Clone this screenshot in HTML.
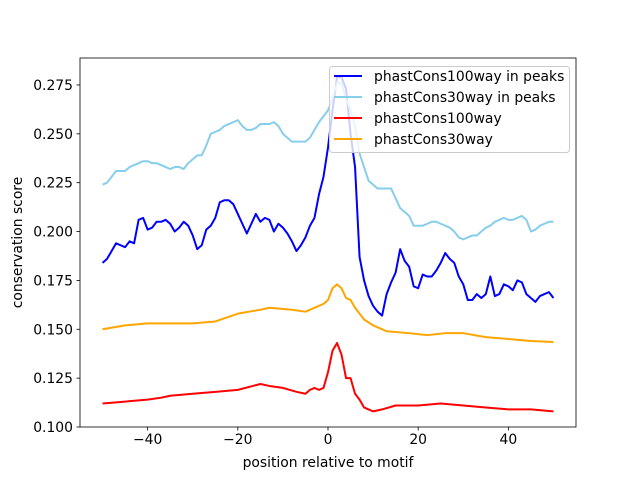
<!DOCTYPE html>
<html><head><meta charset="utf-8"><style>
body{margin:0;background:#fff;}
svg{display:block;font-family:"DejaVu Sans","Liberation Sans",sans-serif;}
</style></head><body>
<svg id="chart" width="640" height="480"></svg>
<script>
const xsPeaks100 = [];for(let i=-50;i<=50;i++)xsPeaks100.push(i);
const peaks100 = [0.184,0.186,0.190,0.194,0.193,0.192,0.195,0.194,0.206,0.207,0.201,0.202,0.205,0.205,0.206,0.204,0.200,0.202,0.205,0.203,0.198,0.191,0.193,0.201,0.203,0.207,0.215,0.216,0.216,0.214,0.209,0.204,0.199,0.204,0.209,0.205,0.207,0.206,0.200,0.204,0.202,0.199,0.195,0.190,0.193,0.197,0.203,0.207,0.219,0.228,0.243,0.262,0.279,0.279,0.273,0.250,0.233,0.187,0.175,0.167,0.162,0.159,0.157,0.168,0.174,0.179,0.191,0.185,0.182,0.172,0.171,0.178,0.177,0.177,0.180,0.184,0.189,0.186,0.184,0.177,0.173,0.165,0.165,0.168,0.166,0.168,0.177,0.167,0.168,0.173,0.172,0.170,0.175,0.174,0.168,0.166,0.164,0.167,0.168,0.169,0.166];
const peaks30 = [0.224,0.225,0.228,0.231,0.231,0.231,0.233,0.234,0.235,0.236,0.236,0.235,0.235,0.234,0.233,0.232,0.233,0.233,0.232,0.235,0.237,0.239,0.239,0.244,0.250,0.251,0.252,0.254,0.255,0.256,0.257,0.254,0.252,0.252,0.253,0.255,0.255,0.255,0.256,0.254,0.250,0.248,0.246,0.246,0.246,0.246,0.248,0.252,0.256,0.259,0.262,0.268,0.276,0.276,0.268,0.262,0.254,0.240,0.233,0.226,0.224,0.222,0.222,0.222,0.222,0.217,0.212,0.210,0.208,0.203,0.203,0.203,0.204,0.205,0.205,0.204,0.203,0.202,0.200,0.197,0.196,0.197,0.198,0.198,0.200,0.202,0.203,0.205,0.206,0.207,0.206,0.206,0.207,0.208,0.206,0.200,0.201,0.203,0.204,0.205,0.205];
const xsAll100 = [-50,-45,-40,-37,-35,-30,-25,-20,-15,-13,-10,-7,-5,-4,-3,-2,-1,0,1,2,3,4,5,6,7,8,9,10,12,15,20,25,30,35,40,45,50];
const all100 = [0.112,0.113,0.114,0.115,0.116,0.117,0.118,0.119,0.122,0.121,0.120,0.118,0.117,0.119,0.120,0.119,0.120,0.128,0.139,0.143,0.137,0.125,0.125,0.117,0.114,0.110,0.109,0.108,0.109,0.111,0.111,0.112,0.111,0.110,0.109,0.109,0.108];
const xsAll30 = [-50,-45,-40,-30,-25,-20,-15,-13,-8,-5,-3,-1,0,1,2,3,4,5,6,7,8,10,13,18,22,26,30,35,40,45,50];
const all30 = [0.150,0.152,0.153,0.153,0.154,0.158,0.160,0.161,0.160,0.159,0.161,0.163,0.165,0.171,0.173,0.171,0.166,0.165,0.161,0.158,0.155,0.152,0.149,0.148,0.147,0.148,0.148,0.146,0.145,0.144,0.1435];
const xTicks = [-40,-20,0,20,40];
const yTicks = [0.100,0.125,0.150,0.175,0.200,0.225,0.250,0.275];
const legendLabels = ["phastCons100way in peaks","phastCons30way in peaks","phastCons100way","phastCons30way"];

const L=80,R=576,T=58,B=427, X0=-55,X1=55,Y0=0.1,Y1=0.2888;
const sx=v=>L+(v-X0)/(X1-X0)*(R-L);
const sy=v=>B-(v-Y0)/(Y1-Y0)*(B-T);
const svg=document.getElementById('chart');
const NS='http://www.w3.org/2000/svg';
function mk(tag,attrs,parent){const e=document.createElementNS(NS,tag);for(const k in attrs)e.setAttribute(k,attrs[k]);(parent||svg).appendChild(e);return e;}

const series=[[xsPeaks100,peaks100,'#0000ff','line-phastcons100way-in-peaks'],[xsPeaks100,peaks30,'#87ceeb','line-phastcons30way-in-peaks'],[xsAll100,all100,'#ff0000','line-phastcons100way'],[xsAll30,all30,'#ffa500','line-phastcons30way']];
series.forEach(s=>{
  const p=mk('polyline',{points:s[0].map((x,i)=>sx(x)+','+sy(s[1][i])).join(' '),fill:'none',stroke:s[2],'stroke-width':2,'stroke-linejoin':'round'});
  
  
});
const frame=mk('rect',{x:L,y:T,width:R-L,height:B-T,fill:'none',stroke:'#000','stroke-width':0.8});


xTicks.forEach(t=>{
  mk('line',{x1:sx(t),x2:sx(t),y1:B,y2:B+3.5,stroke:'#000','stroke-width':0.8});
  const tx=mk('text',{x:sx(t),y:B+17,'text-anchor':'middle','font-size':'13.9px'});
  tx.textContent=(t<0?'\u2212'+(-t):t);
  
  
});
yTicks.forEach(t=>{
  mk('line',{x1:L-3.5,x2:L,y1:sy(t),y2:sy(t),stroke:'#000','stroke-width':0.8});
  const tx=mk('text',{x:L-7,y:sy(t)+5,'text-anchor':'end','font-size':'13.9px'});
  tx.textContent=t.toFixed(3);
  
  
});
const xl=mk('text',{x:(L+R)/2,y:467,'text-anchor':'middle','font-size':'13.9px'});
xl.textContent='position relative to motif';


const yl=mk('text',{x:22,y:(T+B)/2,'text-anchor':'middle','font-size':'13.9px',transform:'rotate(-90 22 '+((T+B)/2)+')'});
yl.textContent='conservation score';


const lg=mk('g',{});


mk('rect',{x:329.5,y:66.5,width:240,height:86,rx:3,fill:'#fff','fill-opacity':0.8,stroke:'#ccc'},lg);
legendLabels.forEach((lab,i)=>{
  const y=76+i*21;
  const g=mk('g',{},lg);
  
  
  mk('line',{x1:334,x2:362,y1:y,y2:y,stroke:series[i][2],'stroke-width':2},g);
  const t=mk('text',{x:374,y:y+5,'font-size':'13.9px'},g);
  t.textContent=lab;
});
</script>
</body></html>
